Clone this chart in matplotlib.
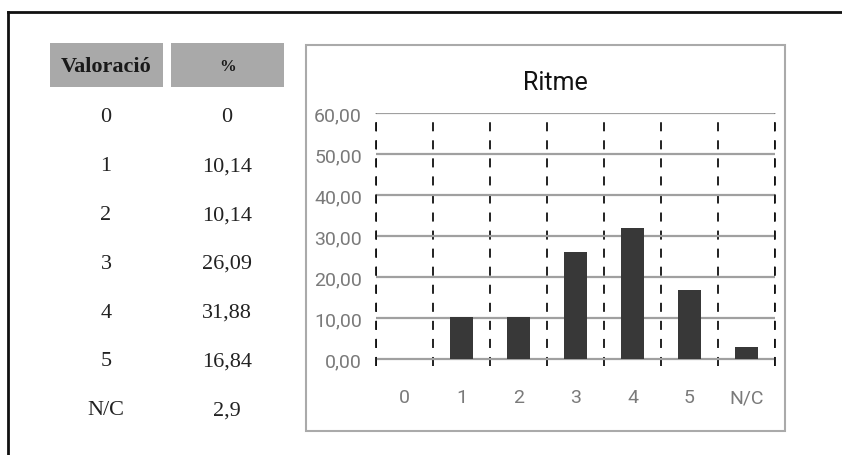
import matplotlib
matplotlib.use("Agg")
import matplotlib.pyplot as plt
from matplotlib.patches import Rectangle
from matplotlib.lines import Line2D
from matplotlib.ticker import FuncFormatter, MultipleLocator

# ---- data ----
categories = ['0', '1', '2', '3', '4', '5', 'N/C']
values = [0, 10.14, 10.14, 26.09, 31.88, 16.84, 2.9]
table_values = ['0', '10,14', '10,14', '26,09', '31,88', '16,84', '2,9']
header = ['Valoració', '%']
title = 'Ritme'
yticks = [0, 10, 20, 30, 40, 50, 60]

W, H = 842, 456
fig = plt.figure(figsize=(W / 100, H / 100), dpi=100)
fig.patch.set_facecolor('white')

def fx(x):
    return x / W

def fy(y):
    return 1 - y / H

narrow = ['Roboto', 'DejaVu Sans']
serif = ['Liberation Serif', 'DejaVu Serif']

# outer frame (top and left lines)
fig.add_artist(Line2D([fx(8), fx(842)], [fy(13), fy(13)], color='#111', lw=2))
fig.add_artist(Line2D([fx(8), fx(8)], [fy(13), fy(456)], color='#111', lw=2))

# ---- table ----
col_x = [(50, 163), (171, 284)]
header_sizes = [16, 12]
for (x0, x1), h, fs in zip(col_x, header, header_sizes):
    fig.add_artist(Rectangle((fx(x0), fy(88)), fx(x1 - x0), (88 - 44) / H,
                             facecolor='#a9a9a9', edgecolor='none'))
    fig.text(fx((x0 + x1) / 2), fy(67), h, ha='center', va='center',
             fontsize=fs, fontweight='bold', family=serif, color='#1a1a1a')

row_y0, row_dy = 118, 48.8
for i, (c, v) in enumerate(zip(categories, table_values)):
    y = row_y0 + i * row_dy
    fig.text(fx(106), fy(y), c, ha='center', va='center', fontsize=16,
             family=serif, color='#222')
    fig.text(fx(227), fy(y), v, ha='center', va='center', fontsize=16,
             family=serif, color='#222')

# ---- chart box ----
fig.add_artist(Rectangle((fx(306), fy(432)), fx(785 - 306), (432 - 46) / H,
                         facecolor='none', edgecolor='#aaaaaa', lw=1.5))
fig.text(fx(555), fy(83), title, ha='center', va='center', fontsize=18,
         family=narrow, color='#111')

# axes area: x 376..775, y 114..367 (pixels)
ax = fig.add_axes([fx(376), fy(367), fx(775 - 376), (367 - 114) / H])
ax.set_facecolor('white')
x = list(range(len(categories)))
ax.bar(x, values, width=0.42, color='#383838', zorder=3)
ax.set_xlim(-0.5, len(categories) - 0.5)
ax.set_ylim(-1.7, 60)
ax.set_yticks(yticks)
ax.yaxis.set_major_formatter(FuncFormatter(lambda v, p: f'{v:.2f}'.replace('.', ',')))
ax.set_xticks(x)
ax.set_xticklabels(categories)
ax.xaxis.set_minor_locator(MultipleLocator(1, offset=0.5))
for s in ax.spines.values():
    s.set_visible(False)
ax.grid(axis='y', which='major', color='#a0a0a0', lw=1.6, zorder=1)
ax.grid(axis='x', which='minor', color='#111', lw=1.3, linestyle=(0, (5, 5)), zorder=2)
ax.grid(axis='x', which='major', visible=False)
ax.tick_params(axis='both', which='both', length=0)
ax.tick_params(axis='y', pad=10, labelsize=14, labelcolor='#7a7a7a')
ax.tick_params(axis='x', pad=16, labelsize=14, labelcolor='#7a7a7a')
for lab in ax.get_xticklabels() + ax.get_yticklabels():
    lab.set_family(narrow)
# vertical dashed boundary lines at the edges
for b in (-0.5, len(categories) - 0.5):
    ax.axvline(b, color='#111', lw=1.3, linestyle=(0, (5, 5)), zorder=2, clip_on=False)

fig.savefig('out.png', dpi=100, facecolor='white')
